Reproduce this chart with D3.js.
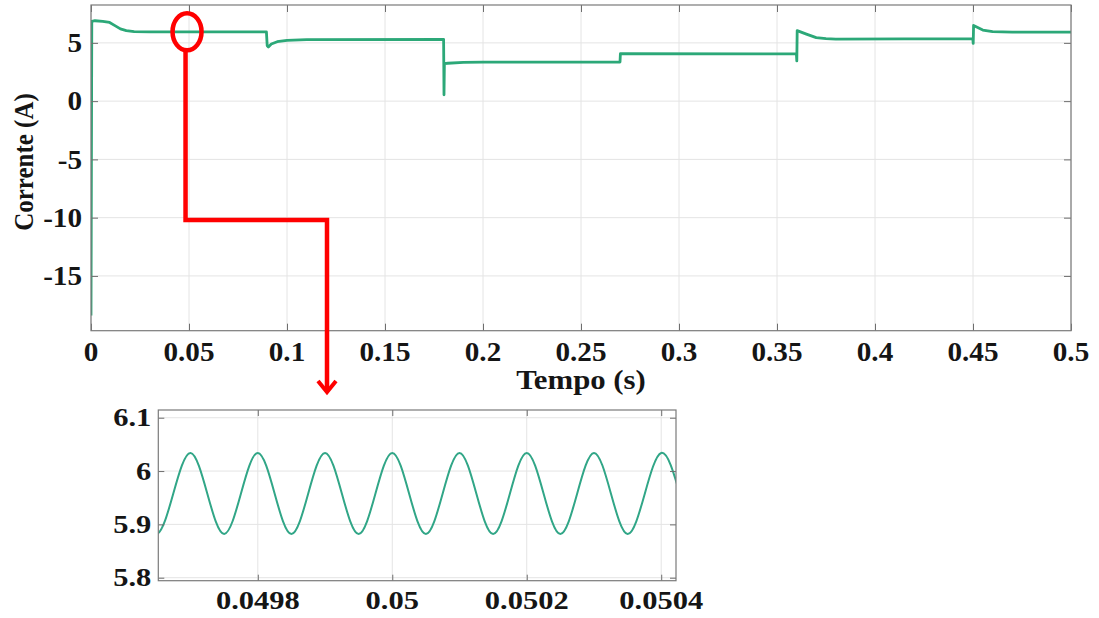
<!DOCTYPE html>
<html>
<head>
<meta charset="utf-8">
<script src="https://cdn.jsdelivr.net/npm/d3@7"></script>
<style>
  body { margin: 0; background: #fff; }
  svg { display: block; }
  text { font-family: "Liberation Serif", "Times New Roman", serif; font-weight: bold; fill: #151515; }
</style>
</head>
<body>
<svg id="chart" width="1099" height="618"></svg>
<script>
// Inverter output current over the full run (s, A)
const timeS = [0, 0.0004, 0.002, 0.006, 0.0095, 0.012, 0.015, 0.018, 0.022, 0.03,
  0.0895, 0.0899, 0.0905, 0.092, 0.095, 0.1, 0.11,
  0.1799, 0.1801, 0.1803, 0.182, 0.19, 0.2,
  0.2699, 0.2701,
  0.3599, 0.3601, 0.3603, 0.365, 0.37, 0.375, 0.38,
  0.4499, 0.4501, 0.4503, 0.455, 0.46, 0.47, 0.5];
const currentA = [-18.4, 6.85, 6.9, 6.85, 6.75, 6.5, 6.2, 6.05, 5.97, 5.95,
  5.95, 4.75, 4.65, 4.9, 5.1, 5.22, 5.28,
  5.3, 0.55, 3.22, 3.25, 3.32, 3.35,
  3.36, 4.07,
  4.06, 3.45, 6.05, 5.75, 5.45, 5.36, 5.33,
  5.36, 4.95, 6.5, 6.1, 5.96, 5.92, 5.92];
const xTicks = [0, 0.05, 0.1, 0.15, 0.2, 0.25, 0.3, 0.35, 0.4, 0.45, 0.5];
const yTicks = [-15, -10, -5, 0, 5];

// Detail of the switching ripple around t = 0.05 s (successive peaks and troughs;
// the outermost entries lie just past the visible window and are clipped)
const zoomTime = [0.04955, 0.0496, 0.04965, 0.0497, 0.04975, 0.0498, 0.04985, 0.0499, 0.04995, 0.05,
  0.05005, 0.0501, 0.05015, 0.0502, 0.05025, 0.0503, 0.05035, 0.0504, 0.05045, 0.0505];
const zoomCurrent = [5.882, 6.034, 5.882, 6.034, 5.882, 6.034, 5.882, 6.034, 5.882, 6.034,
  5.882, 6.034, 5.882, 6.034, 5.882, 6.034, 5.882, 6.034, 5.882, 6.034];
const zoomXTicks = [0.0498, 0.05, 0.0502, 0.0504];
const zoomYTicks = [5.8, 5.9, 6, 6.1];

const svg = d3.select("#chart");
svg.append("rect").attr("width", 1099).attr("height", 618).attr("fill", "#fff");

const fmt = d => String(+d.toFixed(4));

function panel(opts) {
  const { x, y, xt, yt, tick, font, sx, xBase, yGap, lineColor, lineWidth, data, curve, id } = opts;
  const [x0, x1] = x.range();
  const [y0, y1] = y.range(); // y0 bottom, y1 top
  const g = svg.append("g");

  // grid
  g.append("g").selectAll("line").data(xt).join("line")
    .attr("x1", d => x(d)).attr("x2", d => x(d)).attr("y1", y1).attr("y2", y0)
    .attr("stroke", "#e4e4e4").attr("stroke-width", 1);
  g.append("g").selectAll("line").data(yt).join("line")
    .attr("y1", d => y(d)).attr("y2", d => y(d)).attr("x1", x0).attr("x2", x1)
    .attr("stroke", "#e4e4e4").attr("stroke-width", 1);

  // trace
  g.append("clipPath").attr("id", id).append("rect")
    .attr("x", x0).attr("y", y1).attr("width", x1 - x0).attr("height", y0 - y1);
  g.append("path").datum(data)
    .attr("clip-path", `url(#${id})`)
    .attr("fill", "none").attr("stroke", lineColor).attr("stroke-width", lineWidth)
    .attr("stroke-linejoin", "round")
    .attr("d", d3.line().x(d => x(d[0])).y(d => y(d[1])).curve(curve));

  // inward ticks on all four sides
  const axes = [
    [d3.axisBottom(x).tickValues(xt), `translate(0,${y0})`],
    [d3.axisTop(x).tickValues(xt), `translate(0,${y1})`],
    [d3.axisLeft(y).tickValues(yt), `translate(${x0},0)`],
    [d3.axisRight(y).tickValues(yt), `translate(${x1},0)`]
  ];
  axes.forEach(([ax, tr]) => {
    const a = g.append("g").attr("transform", tr)
      .call(ax.tickSize(-tick).tickFormat(""));
    a.select(".domain").remove();
    a.selectAll(".tick line").attr("stroke", "#6e6e6e").attr("stroke-width", 1);
  });

  // frame
  g.append("rect").attr("x", x0).attr("y", y1).attr("width", x1 - x0).attr("height", y0 - y1)
    .attr("fill", "none").attr("stroke", "#7a7a7a").attr("stroke-width", 1.2);

  // tick labels
  g.append("g").selectAll("text").data(xt).join("text")
    .attr("transform", d => `translate(${x(d)},${xBase}) scale(${sx},1)`)
    .attr("text-anchor", "middle").style("font-size", font + "px")
    .text(fmt);
  g.append("g").selectAll("text").data(yt).join("text")
    .attr("transform", d => `translate(${x0 - yGap},${y(d)}) scale(${sx},1)`)
    .attr("dy", "0.34em")
    .attr("text-anchor", "end").style("font-size", font + "px")
    .text(fmt);
  return g;
}

// main panel
const x = d3.scaleLinear([0, 0.5], [91, 1071]);
const y = d3.scaleLinear([-19.7, 8.25], [330.7, 5]);
panel({
  x, y, xt: xTicks, yt: yTicks, tick: 7, font: 27, sx: 1.08, xBase: 361, yGap: 9,
  lineColor: "#2ca878", lineWidth: 2.8, curve: d3.curveLinear, id: "clipMain",
  data: timeS.map((t, i) => [t, currentA[i]])
});

svg.append("text")
  .attr("transform", `translate(${(x.range()[0] + x.range()[1]) / 2},389) scale(1.1,1)`)
  .attr("text-anchor", "middle").style("font-size", "28px")
  .text("Tempo (s)");
svg.append("text")
  .attr("transform", "translate(24,162) rotate(-90) scale(1,1.12)")
  .attr("dy", "0.32em")
  .attr("text-anchor", "middle").style("font-size", "25px")
  .text("Corrente (A)");

// detail panel
const xi = d3.scaleLinear([0.049652, 0.050422], [158.3, 676]);
const yi = d3.scaleLinear([5.7944, 6.1145], [580.7, 410]);
panel({
  x: xi, y: yi, xt: zoomXTicks, yt: zoomYTicks, tick: 6, font: 25, sx: 1.22, xBase: 609, yGap: 7,
  lineColor: "#31a687", lineWidth: 2, curve: d3.curveNatural, id: "clipZoom",
  data: zoomTime.map((t, i) => [t, zoomCurrent[i]])
});

// callout: ring on the trace and elbow arrow down to the detail panel
const cx = x(0.049), cy = y(5.95);
const red = "#ff0000";
svg.append("ellipse").attr("cx", cx).attr("cy", cy).attr("rx", 14.5).attr("ry", 18.5)
  .attr("fill", "none").attr("stroke", red).attr("stroke-width", 4.5);
const elbowY = 220, arrowX = 327, tipY = 392;
svg.append("path")
  .attr("d", `M${cx - 1.5},${cy + 18.5} V${elbowY} H${arrowX} V${tipY - 2}`)
  .attr("fill", "none").attr("stroke", red).attr("stroke-width", 4.5)
  .attr("stroke-linejoin", "miter");
svg.append("path")
  .attr("d", `M${arrowX - 9},${tipY - 11} L${arrowX},${tipY} L${arrowX + 9},${tipY - 11}`)
  .attr("fill", "none").attr("stroke", red).attr("stroke-width", 4)
  .attr("stroke-linejoin", "miter");
</script>
</body>
</html>
